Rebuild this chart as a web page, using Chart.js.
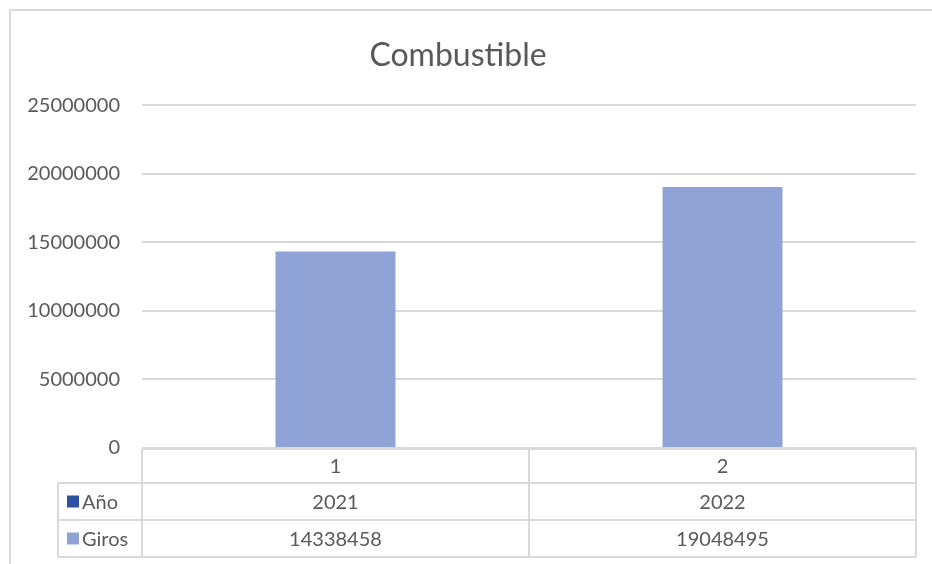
<!DOCTYPE html>
<html>
<head>
<meta charset="utf-8">
<script src="https://cdn.jsdelivr.net/npm/chart.js@4"></script>
<style>
  html, body { margin: 0; padding: 0; background: #fff; }
  #wrap { width: 932px; height: 564px; }
</style>
</head>
<body>
<div id="wrap"><canvas id="combChart" width="932" height="564"></canvas></div>
<script>
// Datos de la tabla / grafico
const categorias = ['1', '2'];
const anio = [2021, 2022];
const giros = [14338458, 19048495];
const yMax = 25000000;
const yPaso = 5000000;

const colorTexto = '#595959';
const colorLinea = '#D9D9D9';
const colorGiros = '#8FA3D6';
const colorAnio = '#2F52A0';
const fuente = 'Lato, "Open Sans", sans-serif';

// Marco exterior del grafico (estilo Excel)
const marcoPlugin = {
    id: 'marco',
    beforeDraw(chart) {
        const ctx = chart.ctx;
        ctx.save();
        ctx.fillStyle = '#fff';
        ctx.fillRect(0, 0, chart.width, chart.height);
        ctx.strokeStyle = colorLinea;
        ctx.lineWidth = 2;
        ctx.beginPath();
        ctx.moveTo(10, chart.height);
        ctx.lineTo(10, 10);
        ctx.lineTo(chart.width, 10);
        ctx.stroke();
        ctx.restore();
    }
};

// Tabla de datos debajo del eje X
const tablaPlugin = {
    id: 'tablaDatos',
    afterDraw(chart) {
        const ctx = chart.ctx;
        const x = chart.scales.x;
        const area = chart.chartArea;
        const left = area.left, right = area.right;
        const top = area.bottom + 1;
        const filas = [top, top + 34, top + 71, top + 108];
        const labelLeft = 58;
        const paso = (right - left) / categorias.length;

        ctx.save();
        ctx.strokeStyle = colorLinea;
        ctx.lineWidth = 2;
        ctx.beginPath();
        // horizontales
        ctx.moveTo(left, filas[0]); ctx.lineTo(right, filas[0]);
        for (let i = 1; i < filas.length; i++) {
            ctx.moveTo(labelLeft, filas[i]); ctx.lineTo(right, filas[i]);
        }
        // verticales
        ctx.moveTo(labelLeft, filas[1]); ctx.lineTo(labelLeft, filas[3]);
        for (let i = 0; i <= categorias.length; i++) {
            const xx = left + paso * i;
            ctx.moveTo(xx, filas[0]); ctx.lineTo(xx, filas[3]);
        }
        ctx.stroke();

        ctx.fillStyle = colorTexto;
        ctx.font = '20px ' + fuente;
        ctx.textAlign = 'center';
        ctx.textBaseline = 'middle';
        categorias.forEach((c, i) => {
            const cx = x.getPixelForValue(i);
            ctx.fillText(c, cx, (filas[0] + filas[1]) / 2 + 1);
            ctx.fillText(String(anio[i]), cx, (filas[1] + filas[2]) / 2 + 1);
            ctx.fillText(String(giros[i]), cx, (filas[2] + filas[3]) / 2 + 1);
        });

        // etiquetas de serie con su clave de color
        const series = [['Año', colorAnio, 1], ['Giros', colorGiros, 2]];
        ctx.textAlign = 'left';
        series.forEach(([nombre, color, f]) => {
            const cy = (filas[f] + filas[f + 1]) / 2;
            ctx.fillStyle = color;
            ctx.fillRect(67, cy - 6, 12, 12);
            ctx.fillStyle = colorTexto;
            ctx.fillText(nombre, 82, cy + 1);
        });
        ctx.restore();
    }
};

new Chart(document.getElementById('combChart').getContext('2d'), {
    type: 'bar',
    data: {
        labels: categorias,
        datasets: [{
            label: 'Giros',
            data: giros,
            backgroundColor: colorGiros,
            borderWidth: 0,
            categoryPercentage: 1,
            barPercentage: 0.31
        }]
    },
    options: {
        responsive: false,
        animation: false,
        devicePixelRatio: 1,
        layout: { padding: { left: 0, right: 16, top: 0, bottom: 0 } },
        scales: {
            x: {
                grid: { display: false },
                border: { display: false },
                ticks: { display: false },
                afterFit: (scale) => { scale.height = 116; }
            },
            y: {
                min: 0,
                max: yMax,
                ticks: {
                    stepSize: yPaso,
                    color: colorTexto,
                    font: { family: fuente, size: 20 },
                    padding: 22,
                    callback: (v) => String(v)
                },
                grid: { color: colorLinea, lineWidth: 2, drawTicks: false },
                border: { display: false },
                afterFit: (scale) => { scale.width = 142; }
            }
        },
        plugins: {
            legend: { display: false },
            tooltip: { enabled: false },
            title: {
                display: true,
                text: 'Combustible',
                color: colorTexto,
                font: { family: fuente, size: 32, weight: 'normal' },
                padding: { top: 36, bottom: 31 }
            }
        }
    },
    plugins: [marcoPlugin, tablaPlugin]
});
</script>
</body>
</html>
